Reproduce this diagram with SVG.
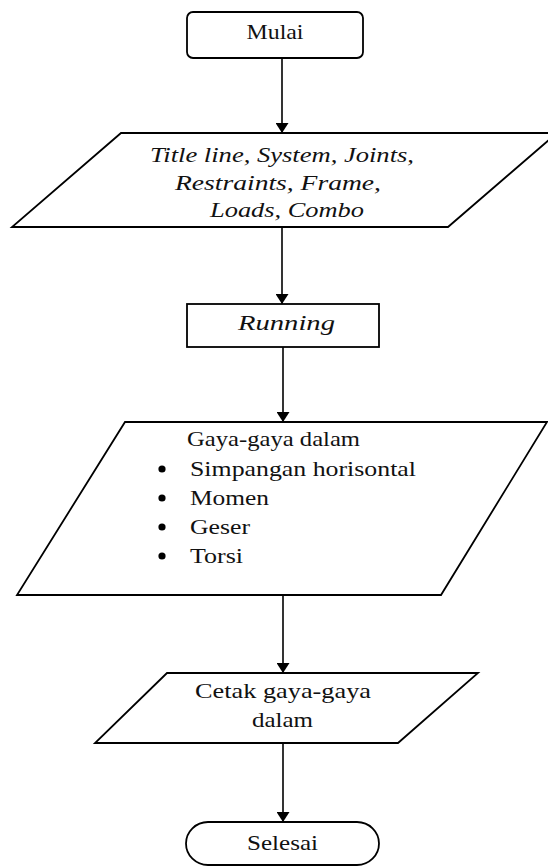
<svg xmlns="http://www.w3.org/2000/svg" width="548" height="867" viewBox="0 0 548 867">
<style>
.shape{fill:#fff;stroke:#000;stroke-width:1.8;stroke-linejoin:miter}
.conn{stroke:#000;stroke-width:1.6;fill:none}
.t{font-family:"Liberation Serif","Times New Roman",serif;font-size:22px;fill:#111}
.i{font-style:italic}
</style>
<defs>
<marker id="ah" viewBox="0 0 10 13" refX="10" refY="6.5" markerWidth="10" markerHeight="13" markerUnits="userSpaceOnUse" orient="auto">
<path d="M0,0 L10,6.5 L0,13 Z" fill="#000"/>
</marker>
</defs>
<rect width="548" height="867" fill="#fff"/>
<g id="connectors">
<line class="conn" x1="282" y1="58" x2="282" y2="133" marker-end="url(#ah)"/>
<line class="conn" x1="282" y1="227" x2="282" y2="304" marker-end="url(#ah)"/>
<line class="conn" x1="283" y1="347" x2="283" y2="422" marker-end="url(#ah)"/>
<line class="conn" x1="283" y1="595" x2="283" y2="673" marker-end="url(#ah)"/>
<line class="conn" x1="283" y1="743" x2="283" y2="822" marker-end="url(#ah)"/>
</g>
<g id="mulai">
<rect class="shape" x="187" y="12" width="176" height="46" rx="6"/>
<text class="t" x="246.5" y="39" textLength="57" lengthAdjust="spacingAndGlyphs">Mulai</text>
</g>
<g id="input">
<polygon class="shape" points="121,133 557,133 448,227 12,227"/>
<text class="t i" x="150" y="162" textLength="264" lengthAdjust="spacingAndGlyphs">Title line, System, Joints,</text>
<text class="t i" x="175" y="190" textLength="206" lengthAdjust="spacingAndGlyphs">Restraints, Frame,</text>
<text class="t i" x="210" y="217" textLength="154" lengthAdjust="spacingAndGlyphs">Loads, Combo</text>
</g>
<g id="running">
<rect class="shape" x="187" y="304" width="192" height="43"/>
<text class="t i" x="238" y="330" textLength="97" lengthAdjust="spacingAndGlyphs">Running</text>
</g>
<g id="output">
<polygon class="shape" points="125,422 547,422 441,595 17,595"/>
<text class="t" x="187" y="446" textLength="173" lengthAdjust="spacingAndGlyphs">Gaya-gaya dalam</text>
<circle cx="162" cy="469" r="3.6" fill="#000"/>
<text class="t" x="190" y="476" textLength="226" lengthAdjust="spacingAndGlyphs">Simpangan horisontal</text>
<circle cx="162" cy="498" r="3.6" fill="#000"/>
<text class="t" x="190" y="505" textLength="79" lengthAdjust="spacingAndGlyphs">Momen</text>
<circle cx="162" cy="527" r="3.6" fill="#000"/>
<text class="t" x="190" y="534" textLength="60" lengthAdjust="spacingAndGlyphs">Geser</text>
<circle cx="162" cy="556" r="3.6" fill="#000"/>
<text class="t" x="190" y="563" textLength="53" lengthAdjust="spacingAndGlyphs">Torsi</text>
</g>
<g id="cetak">
<polygon class="shape" points="167,673 478,673 398,743 95,743"/>
<text class="t" x="195" y="698" textLength="176" lengthAdjust="spacingAndGlyphs">Cetak gaya-gaya</text>
<text class="t" x="252" y="727" textLength="61" lengthAdjust="spacingAndGlyphs">dalam</text>
</g>
<g id="selesai">
<rect class="shape" x="186" y="822" width="193" height="43" rx="22" ry="21.5"/>
<text class="t" x="247" y="850" textLength="71" lengthAdjust="spacingAndGlyphs">Selesai</text>
</g>
</svg>
